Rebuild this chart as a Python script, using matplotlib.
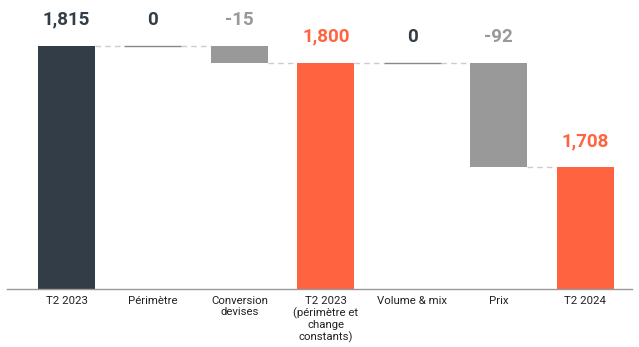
import matplotlib
matplotlib.use("Agg")
import matplotlib.pyplot as plt

plt.rcParams['font.family'] = ['Roboto', 'DejaVu Sans']

categories = ["T2 2023", "Périmètre", "Conversion\ndevises",
              "T2 2023\n(périmètre et\nchange\nconstants)", "Volume & mix", "Prix", "T2 2024"]
values = [1815, 0, -15, 1800, 0, -92, 1708]
kinds = ["total", "delta", "delta", "total", "delta", "delta", "total"]
labels = ["1,815", "0", "-15", "1,800", "0", "-92", "1,708"]

DARK = "#333d47"
ORANGE = "#ff6340"
GREY = "#999999"

fig = plt.figure(figsize=(6.39, 3.47), dpi=100)
ax = fig.add_axes([7 / 639, 58 / 347, 625 / 639, 289 / 347])

width = 0.66
level = 0
tops = []
ends = []
for i, (v, k) in enumerate(zip(values, kinds)):
    if k == "total":
        ax.bar(i, v - 1601, bottom=1601, width=width, color=DARK if i == 0 else ORANGE, zorder=2)
        level = v
        top = v
    else:
        if v == 0:
            ax.hlines(level, i - width / 2, i + width / 2, color="#888888", lw=1, zorder=2)
            top = level
        else:
            ax.bar(i, v, bottom=level, width=width, color=GREY, zorder=2)
            top = max(level, level + v)
            level = level + v
    tops.append(top)
    ends.append(level)

# dashed connectors
for i in range(len(values) - 1):
    ax.hlines(ends[i], i + width / 2, i + 1 - width / 2, color="#cccccc",
              lw=1, linestyles=(0, (4, 3)), zorder=1)

label_colors = [DARK, DARK, GREY, ORANGE, DARK, GREY, ORANGE]
for i, (t, lab, c) in enumerate(zip(tops, labels, label_colors)):
    ax.annotate(lab, (i, t), xytext=(0, 18.5), textcoords="offset points",
                ha="center", va="center", fontsize=13.5, fontweight="bold", color=c)

ax.set_xlim(-0.688, 6.54)
ax.set_ylim(1601, 1855)
ax.set_xticks(range(len(categories)))
ax.set_xticklabels(categories, fontsize=8.2, color="#222222", linespacing=1.17)
ax.tick_params(axis="x", length=0, pad=5)
ax.set_yticks([])
for s in ["top", "left", "right"]:
    ax.spines[s].set_visible(False)
ax.spines["bottom"].set_color("#999999")
ax.spines["bottom"].set_linewidth(1)

fig.savefig("out.png", dpi=100)
